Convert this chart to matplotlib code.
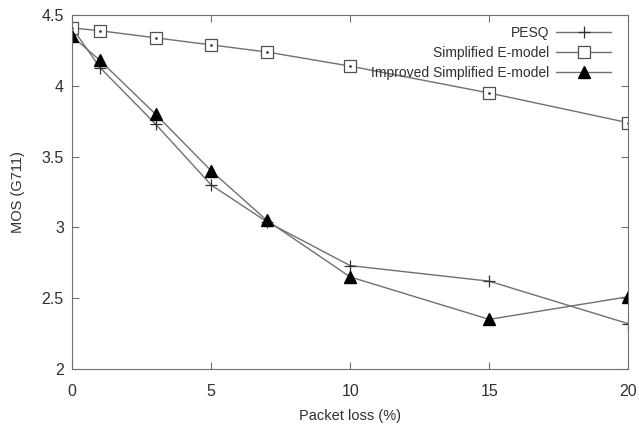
import matplotlib
matplotlib.use("Agg")
import matplotlib.pyplot as plt

loss = [0, 1, 3, 5, 7, 10, 15, 20]
pesq = [4.41, 4.13, 3.73, 3.30, 3.04, 2.73, 2.62, 2.32]
simplified = [4.41, 4.39, 4.34, 4.29, 4.24, 4.14, 3.95, 3.74]
improved = [4.35, 4.18, 3.80, 3.40, 3.05, 2.65, 2.35, 2.51]
xticks = [0, 5, 10, 15, 20]
yticks = [2, 2.5, 3, 3.5, 4, 4.5]

plt.rcParams['font.family'] = ['Liberation Sans', 'DejaVu Sans']
fig = plt.figure(figsize=(6.39, 4.34), dpi=100)
ax = fig.add_axes([0.113, 0.150, 0.870, 0.815])

lc = '#707070'
ax.plot(loss, pesq, color=lc, lw=1, marker='+', ms=9, mec='#303030', mew=0.9, label='PESQ')
ax.plot(loss, simplified, color=lc, lw=1, marker='s', ms=9, mfc='white', mec='#505050', mew=0.9,
        label='Simplified E-model')
ax.plot(loss, simplified, color='none', lw=0, marker='.', ms=2, mfc='#404040', mec='#404040')
ax.plot(loss, improved, color=lc, lw=1, marker='^', ms=9, mfc='black', mec='black',
        label='Improved Simplified E-model')

ax.set_xlim(0, 20)
ax.set_ylim(2, 4.5)
ax.set_xticks(xticks)
ax.set_yticks(yticks)
ax.set_yticklabels(['2', '2.5', '3', '3.5', '4', '4.5'])
ax.tick_params(direction='in', top=True, right=True, length=5, color='#707070',
               labelsize=11.5, labelcolor='#303030', pad=6)
ax.tick_params(axis='x', pad=11)
for s in ax.spines.values():
    s.set_color('#707070')
ax.set_xlabel('Packet loss (%)', fontsize=10.5, color='#303030', labelpad=7)
ax.set_ylabel('MOS (G711)', fontsize=10.5, color='#303030', labelpad=12)

leg = ax.legend(loc='upper right', frameon=False, markerfirst=False, fontsize=10,
                handlelength=4.0, labelspacing=0.42, bbox_to_anchor=(0.985, 0.993),
                borderaxespad=0.2, handletextpad=0.5)
for t in leg.get_texts():
    t.set_color('#303030')

fig.savefig('out.png', dpi=100)
